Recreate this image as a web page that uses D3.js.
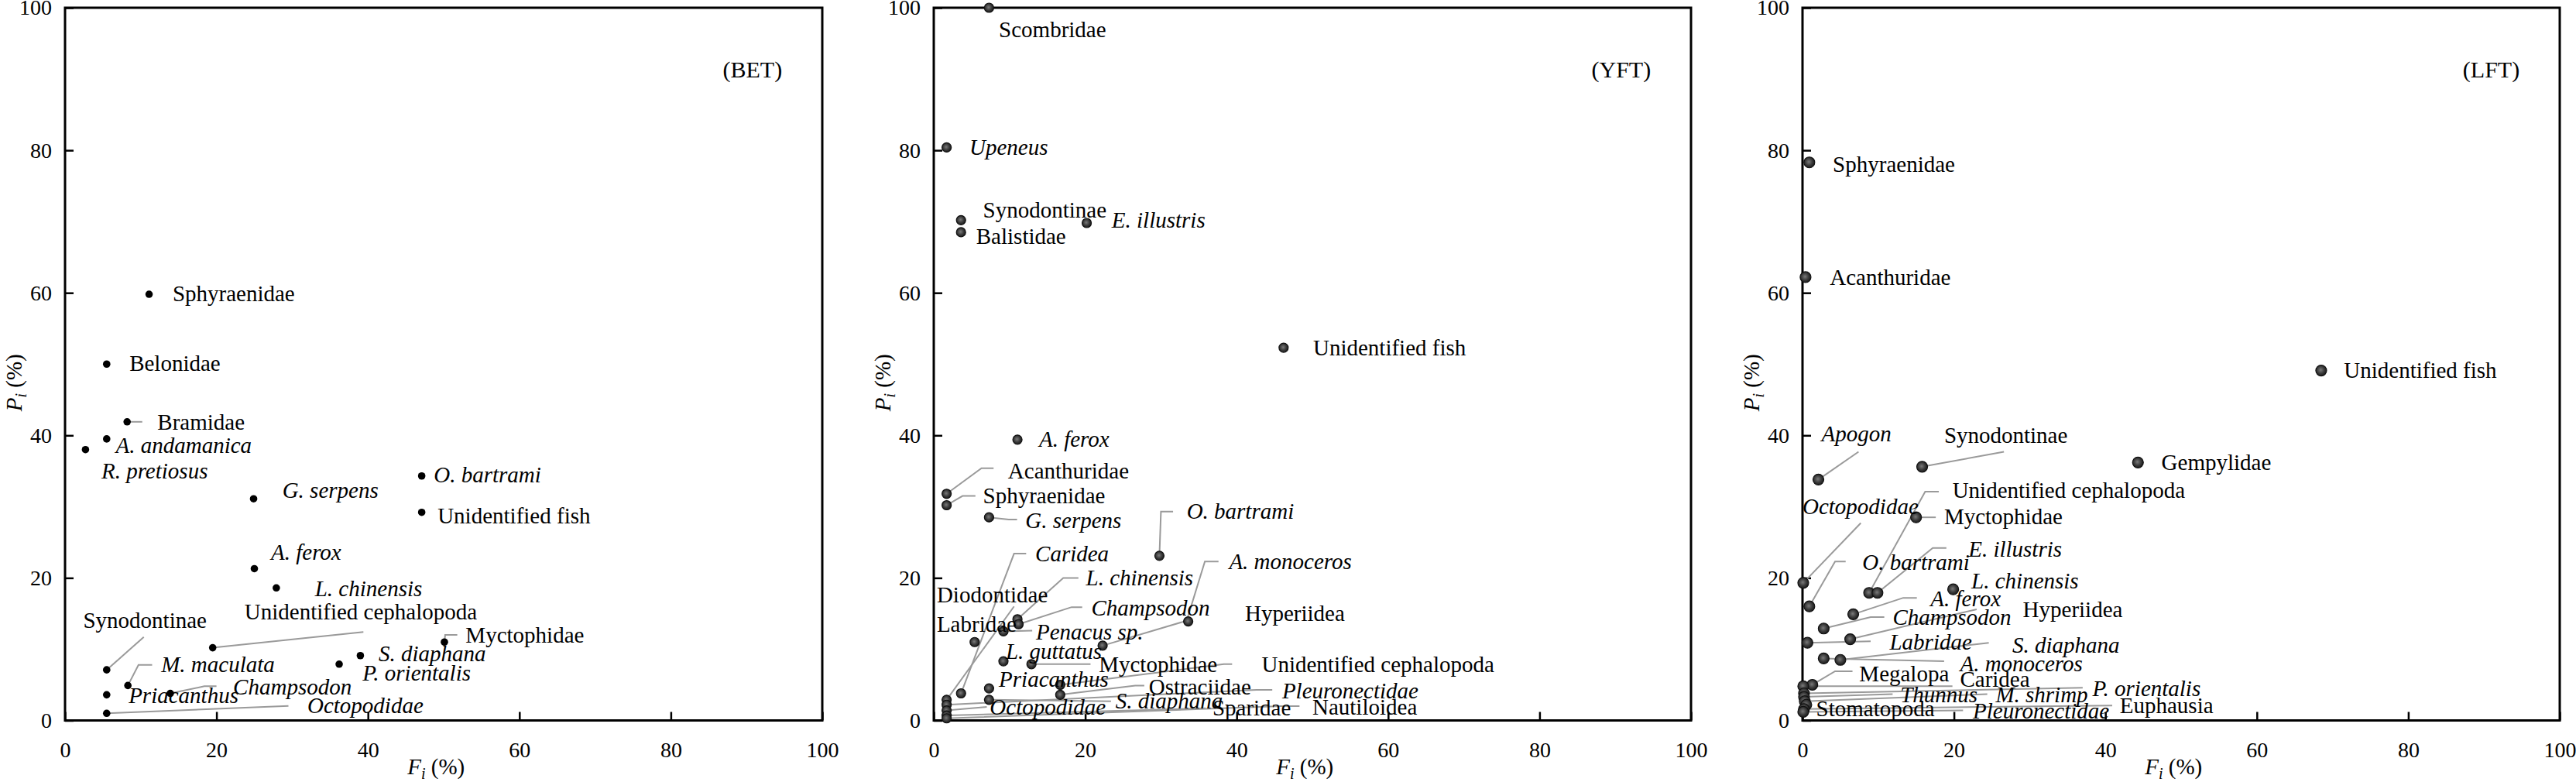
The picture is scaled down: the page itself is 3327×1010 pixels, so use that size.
<!DOCTYPE html>
<html>
<head>
<meta charset="utf-8">
<script src="https://cdn.jsdelivr.net/npm/d3@7"></script>
<style>
  body { margin: 0; background: #fff; }
  svg text { font-family: "Liberation Serif", "Times New Roman", Times, "DejaVu Serif", serif; fill: #000; }
</style>
</head>
<body>
<svg id="chart" width="3327" height="1010"></svg>
<script>
const FONT = '"Liberation Serif", "Times New Roman", Times, "DejaVu Serif", serif';

// tick values shared by all panels
const ticks = [0, 20, 40, 60, 80, 100];

// ---- BET ----
const betNames = ['Sphyraenidae', 'Belonidae', 'Bramidae', 'A. andamanica', 'R. pretiosus', 'G. serpens',
  'O. bartrami', 'Unidentified fish', 'A. ferox', 'L. chinensis', 'Unidentified cephalopoda', 'Myctophidae',
  'S. diaphana', 'P. orientalis', 'Synodontinae', 'M. maculata', 'Priacanthus', 'Champsodon', 'Octopodidae'];
const betF = [11.1, 5.5, 8.2, 5.5, 2.7, 24.9, 47.1, 47.1, 25.0, 27.9, 19.5, 50.1, 39.0, 36.2, 5.5, 8.3, 5.5, 13.9, 5.5];
const betP = [59.8, 50.0, 41.9, 39.5, 38.0, 31.1, 34.3, 29.2, 21.3, 18.6, 10.2, 11.0, 9.1, 7.9, 7.1, 4.9, 3.6, 3.8, 1.0];
const betItalic = ['A. andamanica', 'R. pretiosus', 'G. serpens', 'O. bartrami', 'A. ferox', 'L. chinensis',
  'S. diaphana', 'P. orientalis', 'M. maculata', 'Priacanthus', 'Champsodon', 'Octopodidae'];
// label anchor (text start, baseline) in axis units
const betLabelAt = [[14.2, 58.8], [8.5, 49.0], [12.2, 40.8], [6.7, 37.5], [4.8, 34.0], [28.7, 31.2],
  [48.7, 33.4], [49.2, 27.6], [27.2, 22.5], [33.0, 17.4], [23.7, 14.2], [52.9, 10.9],
  [41.4, 8.3], [39.3, 5.6], [2.4, 13.0], [12.7, 6.8], [8.4, 2.4], [22.2, 3.6], [32.0, 1.0]];
// leader line vertices after the point, axis units
const betLeaders = [null, null, [[10.2, 41.9]], null, null, null,
  null, null, null, null, [[39.4, 12.4]], [[50.2, 12.0], [51.8, 12.0]],
  null, null, [[10.4, 11.7]], [[9.7, 7.8], [11.5, 7.8]], null, [[18.4, 4.8], [20.0, 4.8]], [[29.5, 2.05]]];

// ---- YFT ----
const yftNames = ['Scombridae', 'Upeneus', 'Synodontinae', 'Balistidae', 'E. illustris', 'Unidentified fish',
  'A. ferox', 'Acanthuridae', 'Sphyraenidae', 'G. serpens', 'O. bartrami', 'Caridea', 'A. monoceros',
  'L. chinensis', 'Diodontidae', 'Champsodon', 'Hyperiidea', 'Labridae', 'Penacus sp.', 'L. guttatus',
  'Myctophidae', 'Unidentified cephalopoda', 'Priacanthus', 'Ostraciidae', 'Pleuronectidae', 'Octopodidae',
  'S. diaphana', 'Sparidae', 'Nautiloidea'];
const yftF = [7.3, 1.7, 3.6, 3.6, 20.2, 46.2, 11.05, 1.7, 1.7, 7.3, 29.8, 3.6, 22.3, 11.05, 1.7, 11.2, 33.6,
  5.4, 9.2, 9.2, 12.9, 16.7, 7.3, 16.7, 1.7, 1.7, 7.3, 1.7, 1.7];
const yftP = [100, 80.4, 70.2, 68.5, 69.8, 52.3, 39.4, 31.8, 30.2, 28.5, 23.1, 3.8, 10.5, 14.2, 2.9, 13.5, 13.9,
  11.0, 12.5, 8.3, 7.9, 5.0, 4.5, 3.6, 2.2, 1.4, 2.9, 0.7, 0.3];
const yftItalic = ['Upeneus', 'E. illustris', 'A. ferox', 'G. serpens', 'O. bartrami', 'Caridea', 'A. monoceros',
  'L. chinensis', 'Champsodon', 'Penacus sp.', 'L. guttatus', 'Priacanthus', 'Pleuronectidae', 'Octopodidae',
  'S. diaphana'];
const yftLabelAt = [[8.6, 95.9], [4.7, 79.4], [6.5, 70.6], [5.6, 66.9], [23.5, 69.1], [50.1, 51.2],
  [13.9, 38.4], [9.8, 34.0], [6.5, 30.5], [12.1, 27.0], [33.4, 28.3], [13.4, 22.3], [39.0, 21.2],
  [20.1, 19.0], [0.4, 16.6], [20.8, 14.7], [41.1, 14.0], [0.4, 12.4], [13.5, 11.4], [9.5, 8.65],
  [21.8, 6.8], [43.3, 6.8], [8.6, 4.7], [28.4, 3.6], [46.0, 3.1], [7.4, 0.8],
  [24.0, 1.7], [36.8, 0.7], [50.0, 0.8]];
const yftLeaders = [null, null, null, null, null, null,
  null, [[6.3, 35.4], [7.9, 35.4]], [[3.8, 31.5], [5.5, 31.5]], [[9.9, 28.2], [11.0, 28.2]],
  [[30.0, 29.3], [31.6, 29.3]], [[10.6, 23.4], [12.2, 23.4]], [[33.4, 14.0], [35.8, 22.3], [37.6, 22.3]],
  [[17.1, 20.0], [19.1, 20.0]], [[10.6, 16.0]], [[18.2, 15.9], [19.6, 15.9]], null, null, [[13.0, 12.6]], null,
  [[20.7, 7.9]], [[38.3, 7.9], [39.4, 7.9]], null, [[26.6, 4.9], [27.8, 4.9]], [[42.6, 4.3], [44.7, 4.3]],
  [[7.0, 1.9]], [[23.4, 2.7]], [[35.9, 1.7]], [[45.8, 2.0], [48.3, 2.0]]];

// ---- LFT ----
const lftNames = ['Sphyraenidae', 'Acanthuridae', 'Unidentified fish', 'Gempylidae', 'Synodontinae', 'Apogon',
  'Unidentified cephalopoda', 'Myctophidae', 'Octopodidae', 'O. bartrami', 'E. illustris', 'L. chinensis',
  'A. ferox', 'Champsodon', 'Hyperiidea', 'Labridae', 'S. diaphana', 'A. monoceros', 'Megalopa', 'Caridea',
  'P. orientalis', 'Thunnus', 'M. shrimp', 'Stomatopoda', 'Euphausia', 'Pleuronectidae'];
const lftF = [0.9, 0.4, 68.5, 44.3, 15.8, 2.1, 8.8, 15.0, 0.1, 0.9, 9.9, 19.9, 6.7, 2.8, 6.3, 0.65, 5.0, 2.8,
  1.3, 0.1, 0.2, 0.2, 0.3, 0.5, 0.2, 0.1];
const lftP = [78.3, 62.2, 49.1, 36.2, 35.6, 33.8, 17.9, 28.5, 19.3, 16.0, 17.9, 18.4, 14.9, 12.9, 11.4, 10.9,
  8.5, 8.7, 5.0, 4.8, 3.8, 3.3, 2.7, 2.2, 1.6, 1.2];
const lftItalic = ['Apogon', 'Octopodidae', 'O. bartrami', 'E. illustris', 'L. chinensis', 'A. ferox',
  'Champsodon', 'Labridae', 'S. diaphana', 'A. monoceros', 'P. orientalis', 'Thunnus', 'M. shrimp',
  'Pleuronectidae'];
const lftLabelAt = [[4.0, 77.0], [3.6, 61.1], [71.5, 48.1], [47.4, 35.1], [18.7, 39.0], [2.5, 39.2],
  [19.8, 31.2], [18.7, 27.5], [0.0, 29.0], [7.9, 21.1], [21.9, 23.0], [22.3, 18.5],
  [16.9, 16.0], [11.9, 13.4], [29.1, 14.5], [11.5, 9.9], [27.7, 9.5], [20.8, 6.9], [7.5, 5.5], [20.8, 4.7],
  [38.3, 3.4], [12.9, 2.5], [25.5, 2.5], [1.8, 0.6], [41.9, 1.0], [22.5, 0.3]];
const lftLeaders = [null, null, null, null, [[26.6, 37.7]], [[7.4, 37.7]],
  [[16.2, 32.1], [18.0, 32.1]], [[17.6, 28.5]], [[7.7, 27.7]], [[4.3, 22.3], [5.7, 22.3]],
  [[17.2, 24.2], [19.0, 24.2]], null, [[13.3, 17.2], [15.1, 17.2]], [[9.0, 14.5], [10.8, 14.5]],
  [[23.0, 15.6]], [[9.0, 11.1]], [[24.6, 10.9]], [[18.7, 8.3]], [[4.3, 6.9], [6.6, 6.9]], [[19.8, 4.8]],
  [[37.0, 4.6]], [[11.9, 3.7]], [[24.4, 3.7]], null, [[40.9, 2.1]], [[21.2, 1.4]]];

// layout
const PLOT_W = 978, PLOT_H = 920.5, TOP = 10;
const panels = [
  {tag: '(BET)', left: 84, names: betNames, F: betF, P: betP, italic: betItalic, at: betLabelAt, lead: betLeaders, dot: 'solid', r: 4.8},
  {tag: '(YFT)', left: 1206, names: yftNames, F: yftF, P: yftP, italic: yftItalic, at: yftLabelAt, lead: yftLeaders, dot: 'ball', r: 6},
  {tag: '(LFT)', left: 2328, names: lftNames, F: lftF, P: lftP, italic: lftItalic, at: lftLabelAt, lead: lftLeaders, dot: 'ball', r: 7}
];

const svg = d3.select('#chart').attr('font-family', FONT);

// shaded marker used in YFT and LFT
const grad = svg.append('defs').append('radialGradient')
  .attr('id', 'ball').attr('cx', '45%').attr('cy', '45%').attr('r', '60%');
grad.append('stop').attr('offset', '0%').attr('stop-color', '#7a7a7a');
grad.append('stop').attr('offset', '55%').attr('stop-color', '#3a3a3a');
grad.append('stop').attr('offset', '100%').attr('stop-color', '#151515');

panels.forEach(p => drawPanel(p));

function drawPanel(p) {
  const x = d3.scaleLinear().domain([0, 100]).range([0, PLOT_W]);
  const y = d3.scaleLinear().domain([0, 100]).range([PLOT_H, 0]);

  const g = svg.append('g').attr('transform', `translate(${p.left}, ${TOP})`);

  // AXES (ticks point inward) //
  const xa = g.append('g')
    .attr('transform', `translate(0, ${PLOT_H})`)
    .call(d3.axisBottom(x).tickValues(ticks).tickSize(-11).tickPadding(27.5).tickFormat(d3.format('d')));
  const ya = g.append('g')
    .call(d3.axisLeft(y).tickValues(ticks).tickSize(-11).tickPadding(17).tickFormat(d3.format('d')));
  [xa, ya].forEach(a => {
    a.attr('font-family', null).attr('font-size', null);
    a.select('.domain').remove();
    a.selectAll('line').attr('stroke', '#000').attr('stroke-width', 2.5);
    a.selectAll('text').style('font-size', '28px').attr('fill', '#000').style('font-family', FONT);
  });

  // frame
  g.append('rect')
    .attr('x', 0).attr('y', 0).attr('width', PLOT_W).attr('height', PLOT_H)
    .attr('fill', 'none').attr('stroke', '#000').attr('stroke-width', 3);

  // axis titles
  const xt = g.append('text')
    .attr('x', PLOT_W * 0.49).attr('y', PLOT_H + 69)
    .style('text-anchor', 'middle').style('font-size', '29px');
  xt.append('tspan').style('font-style', 'italic').text('F');
  xt.append('tspan').style('font-style', 'italic').style('font-size', '20px').attr('dy', 6).text('i');
  xt.append('tspan').attr('dy', -6).text(' (%)');

  const yt = g.append('text')
    .attr('transform', `translate(-56, ${y(50) + 24}) rotate(-90)`)
    .style('text-anchor', 'middle').style('font-size', '29px');
  yt.append('tspan').style('font-style', 'italic').text('P');
  yt.append('tspan').style('font-style', 'italic').style('font-size', '20px').attr('dy', 6).text('i');
  yt.append('tspan').attr('dy', -6).text(' (%)');

  // panel tag
  g.append('text')
    .attr('x', x(94.7)).attr('y', 90)
    .style('text-anchor', 'end').style('font-size', '30px')
    .text(p.tag);

  const rows = p.names.map((n, i) => ({name: n, f: p.F[i], v: p.P[i], at: p.at[i], lead: p.lead[i]}));

  // leader lines
  const line = d3.line().x(d => x(d[0])).y(d => y(d[1]));
  g.selectAll('path.leader')
    .data(rows.filter(d => d.lead))
    .enter()
    .append('path')
    .attr('class', 'leader')
    .attr('d', d => line([[d.f, d.v]].concat(d.lead)))
    .attr('fill', 'none')
    .attr('stroke', '#9a9a9a')
    .attr('stroke-width', 2);

  // points
  g.selectAll('circle')
    .data(rows)
    .enter()
    .append('circle')
    .attr('cx', d => x(d.f))
    .attr('cy', d => y(d.v))
    .attr('r', p.r)
    .attr('fill', p.dot === 'ball' ? 'url(#ball)' : '#000')
    .attr('stroke', p.dot === 'ball' ? '#111' : 'none')
    .attr('stroke-width', 1.2);

  // labels
  g.selectAll('text.lab')
    .data(rows)
    .enter()
    .append('text')
    .attr('class', 'lab')
    .attr('x', d => x(d.at[0]))
    .attr('y', d => y(d.at[1]))
    .style('font-size', '29px')
    .style('font-family', FONT)
    .style('font-style', d => p.italic.includes(d.name) ? 'italic' : 'normal')
    .text(d => d.name);
}
</script>
</body>
</html>
